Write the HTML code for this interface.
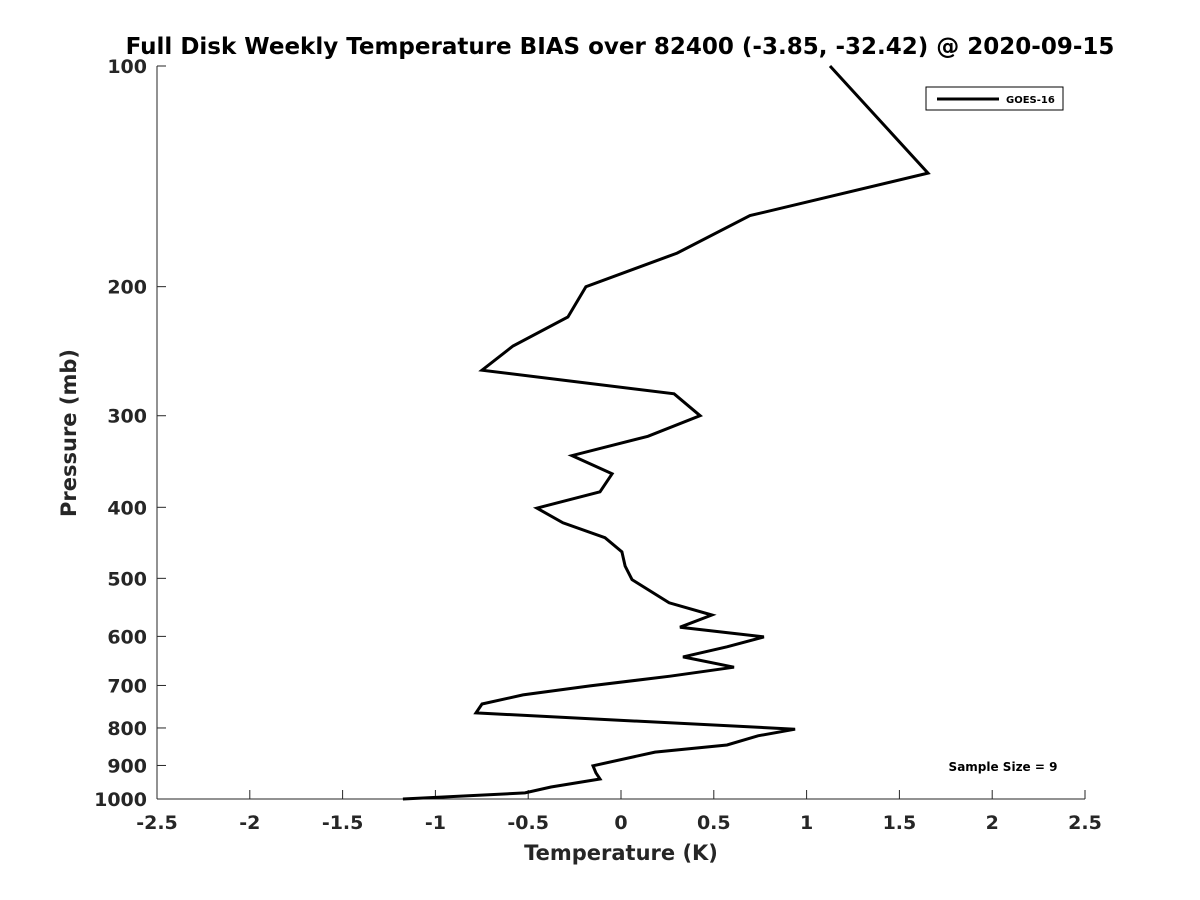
<!DOCTYPE html>
<html><head><meta charset="utf-8"><style>
body{margin:0;background:#fff}
svg{display:block;font-family:"DejaVu Sans","Liberation Sans",sans-serif;font-weight:bold}
</style></head><body>
<svg id="chart" width="1200" height="900">
<text x="620" y="54" text-anchor="middle" font-size="23" fill="#000">Full Disk Weekly Temperature BIAS over 82400 (-3.85, -32.42) @ 2020-09-15</text>
<g id="axes"></g>
<g id="series"></g>
<g>
<rect x="926" y="87" width="137" height="23" fill="#fff" stroke="#000" stroke-width="1"/>
<line x1="937" y1="99" x2="999" y2="99" stroke="#000" stroke-width="3"/>
<text x="1006" y="103" font-size="10" fill="#000">GOES-16</text>
</g>
<text x="1003" y="771" text-anchor="middle" font-size="12" fill="#000">Sample Size = 9</text>
<text x="621" y="860" text-anchor="middle" font-size="21" fill="#262626">Temperature (K)</text>
<text transform="translate(76,433) rotate(-90)" text-anchor="middle" font-size="21" fill="#262626">Pressure (mb)</text>
</svg>
<script>
const temps=[1.126,1.654,0.695,0.302,-0.189,-0.286,-0.582,-0.749,0.286,0.426,0.145,-0.264,-0.048,-0.113,-0.453,-0.313,-0.086,0.005,0.022,0.059,0.259,0.49,0.318,0.77,0.571,0.334,0.609,0.264,-0.167,-0.528,-0.749,-0.781,0.938,0.738,0.571,0.183,-0.151,-0.135,-0.113,-0.377,-0.517,-1.175];
const pressures=[100,140,160,180,200,220,241,260,280,300,320,340,360,381,401,420,440,460,481,502,540,561,583,601,620,640,661,680,701,721,742,763,803,820,844,863,901,921,939,963,981,1000];
const xTicks=[-2.5,-2,-1.5,-1,-0.5,0,0.5,1,1.5,2,2.5];
const yTicks=[100,200,300,400,500,600,700,800,900,1000];
const X0=157,X1=1085,Y0=66,Y1=799;
const xs=v=>X0+(v+2.5)/5*(X1-X0);
const ys=p=>Y0+Math.log10(p/100)*(Y1-Y0);
const NS="http://www.w3.org/2000/svg";
const ax=document.getElementById('axes');
function mk(t,a,par){const e=document.createElementNS(NS,t);for(const k in a)e.setAttribute(k,a[k]);par.appendChild(e);return e;}
let l=mk('line',{x1:X0,y1:Y1,x2:X1,y2:Y1,stroke:'#262626','stroke-width':1},ax);


l=mk('line',{x1:X0,y1:Y0,x2:X0,y2:Y1,stroke:'#262626','stroke-width':1},ax);


xTicks.forEach(v=>{const x=xs(v);
 mk('line',{x1:x,y1:Y1,x2:x,y2:Y1-9,stroke:'#262626'},ax);
 const t=mk('text',{x:x,y:829,'text-anchor':'middle','font-size':19,fill:'#262626'},ax);t.textContent=v;
 
 
});
yTicks.forEach(p=>{const y=ys(p);
 mk('line',{x1:X0,y1:y,x2:X0+9,y2:y,stroke:'#262626'},ax);
 const t=mk('text',{x:X0-10,y:y+7,'text-anchor':'end','font-size':19,fill:'#262626'},ax);t.textContent=p;
 
 
});
const pts=temps.map((t,i)=>xs(t).toFixed(1)+','+ys(pressures[i]).toFixed(1)).join(' ');
const pl=mk('polyline',{points:pts,fill:'none',stroke:'#000','stroke-width':3,'stroke-linejoin':'miter'},document.getElementById('series'));


</script>
</body></html>
